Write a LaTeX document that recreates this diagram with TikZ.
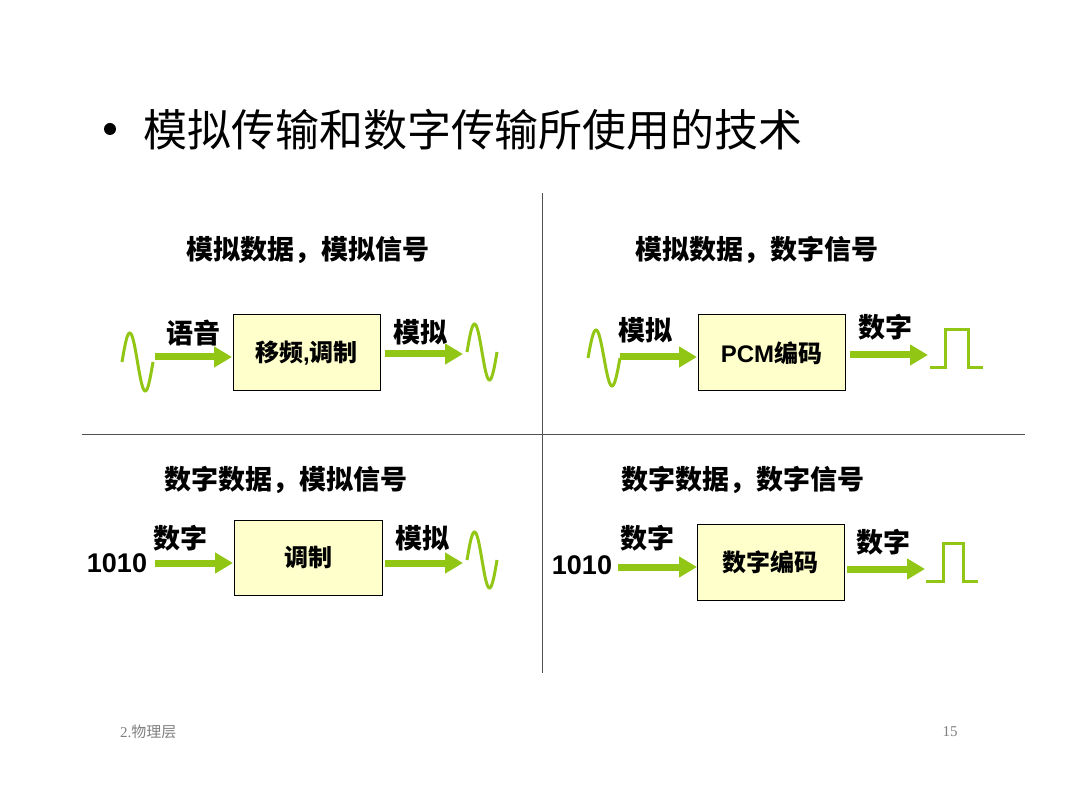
\documentclass[tikz,border=0pt]{standalone}
\usepackage{fontspec}
\setmainfont{Liberation Sans}
\newfontfamily\cjk{Noto Sans CJK SC}
\newfontfamily\lat{Liberation Sans}[BoldFont={Liberation Sans Bold}]
\newfontfamily\latserif{Liberation Serif}
\usetikzlibrary{arrows.meta}
\definecolor{grn}{RGB}{146,198,20}
\definecolor{boxfill}{RGB}{255,255,204}
\definecolor{divline}{RGB}{80,80,80}
\begin{document}
\begin{tikzpicture}[x=1pt,y=-1pt,
  every node/.style={inner sep=0pt,outer sep=0pt},
  titletext/.style={font=\cjk\fontsize{44}{48}\selectfont,anchor=west},
  subtext/.style={font=\cjk\bfseries\fontsize{27}{30}\selectfont},
  lbltext/.style={font=\cjk\bfseries\fontsize{27}{30}\selectfont},
  numtext/.style={font=\lat\bfseries\fontsize{27}{30}\selectfont},
  procbox/.style={draw=black,line width=1pt,fill=boxfill,
    font=\cjk\bfseries\fontsize{24}{28}\selectfont,minimum width=147,minimum height=76},
  garrow/.style={draw=grn,line width=7pt,-{Triangle[length=18pt,width=20pt]}},
  wave/.style={draw=grn,line width=3pt},
  divider/.style={draw=divline,line width=1pt},
  foot/.style={text=gray,font=\fontsize{15}{18}\selectfont}
]
\useasboundingbox[fill=white] (0,0) rectangle (1080,786);

% title
\node[circle,fill=black,minimum size=12] (bullet) at (110,129) {};
\node[titletext] (title) at (143,130) {模拟传输和数字传输所使用的技术};

% dividers
\coordinate (vtop) at (542,193);
\coordinate (vbot) at (542,673);
\coordinate (hl) at (82,435);
\coordinate (hr) at (1025,435);
\draw[divider] (vtop) -- (vbot);
\draw[divider] (hl) -- (hr);

% subtitles
\node[subtext] (s1) at (308,250) {模拟数据，模拟信号};
\node[subtext] (s2) at (757,250) {模拟数据，数字信号};
\node[subtext] (s3) at (286,480) {数字数据，模拟信号};
\node[subtext] (s4) at (743,480) {数字数据，数字信号};

% boxes
\node[procbox] (b1) at (306.5,353) {移频{\lat\bfseries ,}调制};
\node[procbox] (b2) at (771.5,353) {{\lat\bfseries PCM}编码};
\node[procbox,minimum width=148,minimum height=75] (b3) at (308,557.5) {调制};
\node[procbox] (b4) at (770.5,562) {数字编码};

% Q1
\coordinate (a1s) at (155,357); \coordinate (a1e) at (232,357);
\coordinate (a2s) at (385,354); \coordinate (a2e) at (463,354);
\draw[garrow] (a1s) -- (a1e);
\draw[garrow] (a2s) -- (a2e);
\node[lbltext] (l1) at (193,333) {语音};
\node[lbltext] (l2) at (420,332) {模拟};
\draw[wave] plot[domain=0:360,samples=60] ({122+\x/360*31},{362-29*sin(\x)});
\draw[wave] plot[domain=0:360,samples=60] ({467+\x/360*30},{352-28*sin(\x)});

% Q2
\coordinate (a3s) at (620,357); \coordinate (a3e) at (697,357);
\coordinate (a4s) at (850,355); \coordinate (a4e) at (928,355);
\draw[garrow] (a3s) -- (a3e);
\draw[garrow] (a4s) -- (a4e);
\node[lbltext] (l3) at (645,330) {模拟};
\node[lbltext] (l4) at (885,327) {数字};
\draw[wave] plot[domain=0:360,samples=60] ({588+\x/360*32},{358-28*sin(\x)});
\draw[wave,line join=miter] (930,368) -- (945,368) -- (945,330) -- (968,330) -- (968,368) -- (983,368);

% Q3
\coordinate (a5s) at (155,563); \coordinate (a5e) at (233,563);
\coordinate (a6s) at (385,563); \coordinate (a6e) at (463,563);
\draw[garrow] (a5s) -- (a5e);
\draw[garrow] (a6s) -- (a6e);
\node[numtext] (n3) at (117,563) {1010};
\node[lbltext] (l5) at (180,538) {数字};
\node[lbltext] (l6) at (422,538) {模拟};
\draw[wave] plot[domain=0:360,samples=60] ({467+\x/360*30},{560-28*sin(\x)});

% Q4
\coordinate (a7s) at (618,567); \coordinate (a7e) at (697,567);
\coordinate (a8s) at (847,569); \coordinate (a8e) at (925,569);
\draw[garrow] (a7s) -- (a7e);
\draw[garrow] (a8s) -- (a8e);
\node[numtext] (n4) at (582,565) {1010};
\node[lbltext] (l7) at (647,538) {数字};
\node[lbltext] (l8) at (883,542) {数字};
\draw[wave,line join=miter] (926,581) -- (943,581) -- (943,543) -- (963,543) -- (963,581) -- (978,581);

% footer
\node[foot,anchor=west] (f1) at (120,732) {{\latserif 2.}{\cjk 物理层}};
\node[foot] (f2) at (950,732) {\latserif 15};
\end{tikzpicture}
\end{document}
